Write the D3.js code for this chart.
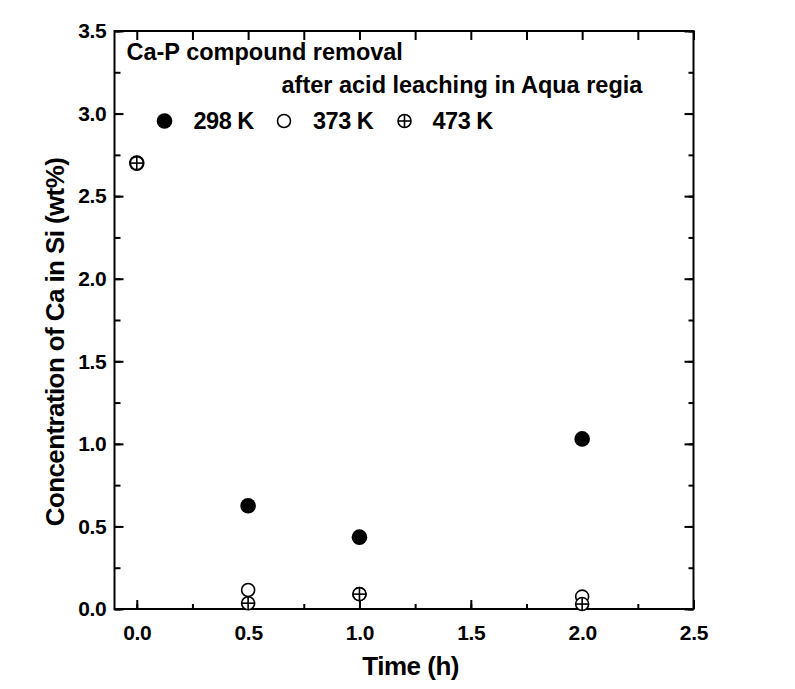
<!DOCTYPE html>
<html>
<head>
<meta charset="utf-8">
<script src="https://cdn.jsdelivr.net/npm/d3@7/dist/d3.min.js"></script>
<style>
  body { margin: 0; background: #fff; }
  text { font-family: 'Liberation Sans', Arial, sans-serif; font-weight: bold; fill: #000; }
</style>
</head>
<body>
<div id="chart"></div>
<script>
// time in hours
var times = [0.0, 0.5, 1.0, 2.0];
// Ca concentration in Si (wt%) per leaching temperature
var ca298 = [2.7, 0.625, 0.435, 1.03];
var ca373 = [2.7, 0.115, 0.09, 0.075];
var ca473 = [2.7, 0.035, 0.09, 0.03];
var seriesNames = ['298 K', '373 K', '473 K'];
var xTicks = [0.0, 0.5, 1.0, 1.5, 2.0, 2.5];
var yTicks = [0.0, 0.5, 1.0, 1.5, 2.0, 2.5, 3.0, 3.5];

var width = 795, height = 689;
var margin = { left: 114.5, right: 101.5, top: 31, bottom: 80 };
var w = width - margin.left - margin.right,
  h = height - margin.top - margin.bottom;

var svg = d3
  .select('#chart')
  .append('svg')
  .attr('width', width)
  .attr('height', height)
  .append('g')
  .attr('transform', 'translate(' + margin.left + ',' + margin.top + ')');

var x = d3.scaleLinear().domain([-0.1, 2.5]).range([0, w]);
var y = d3.scaleLinear().domain([0, 3.5]).range([h, 0]);

var minorX = d3.range(0, 2.51, 0.25);
var minorY = d3.range(0, 3.51, 0.25);

function styleAxis(g) {
  g.selectAll('.domain').remove();
  g.selectAll('.tick line').attr('stroke', '#000').attr('stroke-width', 2);
}

// minor ticks first, majors drawn over them
svg.append('g')
  .attr('transform', 'translate(0,' + h + ')')
  .call(d3.axisBottom(x).tickValues(minorX).tickSize(-5).tickFormat(''))
  .call(styleAxis);
svg.append('g')
  .call(d3.axisLeft(y).tickValues(minorY).tickSize(-6).tickFormat(''))
  .call(styleAxis);
svg.append('g')
  .attr('transform', 'translate(' + w + ',0)')
  .call(d3.axisRight(y).tickValues(minorY).tickSize(-5).tickFormat(''))
  .call(styleAxis);
svg.append('g')
  .call(d3.axisTop(x).tickValues(minorX).tickSize(-9).tickFormat(''))
  .call(styleAxis);

var xAxis = svg.append('g')
  .attr('transform', 'translate(0,' + h + ')')
  .call(d3.axisBottom(x).tickValues(xTicks).tickSize(-9).tickPadding(16).tickFormat(d3.format('.1f')))
  .call(styleAxis);
xAxis.selectAll('.tick text')
  .attr('font-size', 21)
  .attr('font-family', null)
  .attr('letter-spacing', '-0.3px');

var yAxis = svg.append('g')
  .call(d3.axisLeft(y).tickValues(yTicks).tickSize(-9).tickPadding(8).tickFormat(d3.format('.1f')))
  .call(styleAxis);
yAxis.selectAll('.tick text')
  .attr('font-size', 21)
  .attr('font-family', null)
  .attr('letter-spacing', '-0.3px');

svg.append('g')
  .attr('transform', 'translate(' + w + ',0)')
  .call(d3.axisRight(y).tickValues(yTicks).tickSize(-9).tickFormat(''))
  .call(styleAxis);

// frame
svg.append('rect')
  .attr('x', 0)
  .attr('y', 0)
  .attr('width', w)
  .attr('height', h)
  .attr('fill', 'none')
  .attr('stroke', '#000')
  .attr('stroke-width', 2);

// axis titles
svg.append('text')
  .attr('x', x(1.23))
  .attr('y', h + 66)
  .attr('text-anchor', 'middle')
  .attr('font-size', 26)
  .attr('letter-spacing', '-0.5px')
  .text('Time (h)');

svg.append('text')
  .attr('transform', 'translate(-51,' + (h / 2 + 22) + ') rotate(-90)')
  .attr('text-anchor', 'middle')
  .attr('font-size', 26)
  .attr('letter-spacing', '-0.6px')
  .text('Concentration of Ca in Si (wt%)');

// markers
var r = 6.5;
function crossed(g) {
  g.append('circle').attr('r', r).attr('fill', '#fff').attr('stroke', '#000').attr('stroke-width', 1.6);
  g.append('line').attr('x1', -r).attr('x2', r).attr('stroke', '#000').attr('stroke-width', 1.6);
  g.append('line').attr('y1', -r).attr('y2', r).attr('stroke', '#000').attr('stroke-width', 1.6);
}

svg.append('g')
  .selectAll('circle')
  .data(times.map((t, i) => [t, ca298[i]]))
  .enter()
  .append('circle')
  .attr('cx', (d) => x(d[0]))
  .attr('cy', (d) => y(d[1]))
  .attr('r', 7.8)
  .attr('fill', '#000');

svg.append('g')
  .selectAll('circle')
  .data(times.map((t, i) => [t, ca373[i]]))
  .enter()
  .append('circle')
  .attr('cx', (d) => x(d[0]))
  .attr('cy', (d) => y(d[1]))
  .attr('r', r)
  .attr('fill', '#fff')
  .attr('stroke', '#000')
  .attr('stroke-width', 1.6);

svg.append('g')
  .selectAll('g')
  .data(times.map((t, i) => [t, ca473[i]]))
  .enter()
  .append('g')
  .attr('transform', (d) => 'translate(' + x(d[0]) + ',' + y(d[1]) + ')')
  .each(function () { crossed(d3.select(this)); });

// legend
var legend = svg.append('g');
legend.append('text')
  .attr('x', 12)
  .attr('y', 29)
  .attr('font-size', 23.5)
  .text('Ca-P compound removal');
legend.append('text')
  .attr('x', 167)
  .attr('y', 62)
  .attr('font-size', 23.5)
  .text('after acid leaching in Aqua regia');

var legendX = [50, 169.5, 290];
var items = legend.selectAll('.item')
  .data(seriesNames)
  .enter()
  .append('g')
  .attr('class', 'item')
  .attr('transform', (d, i) => 'translate(' + legendX[i] + ',90)');

items.each(function (d, i) {
  var g = d3.select(this);
  if (i === 0) g.append('circle').attr('r', 7.8).attr('fill', '#000');
  else if (i === 1) g.append('circle').attr('r', r).attr('fill', '#fff').attr('stroke', '#000').attr('stroke-width', 1.6);
  else crossed(g);
  g.append('text')
    .attr('x', 29 - (i === 2 ? 1 : 0))
    .attr('y', 7.5)
    .attr('font-size', 23.5)
    .attr('letter-spacing', '-0.5px')
    .text(d);
});
</script>
</body>
</html>
